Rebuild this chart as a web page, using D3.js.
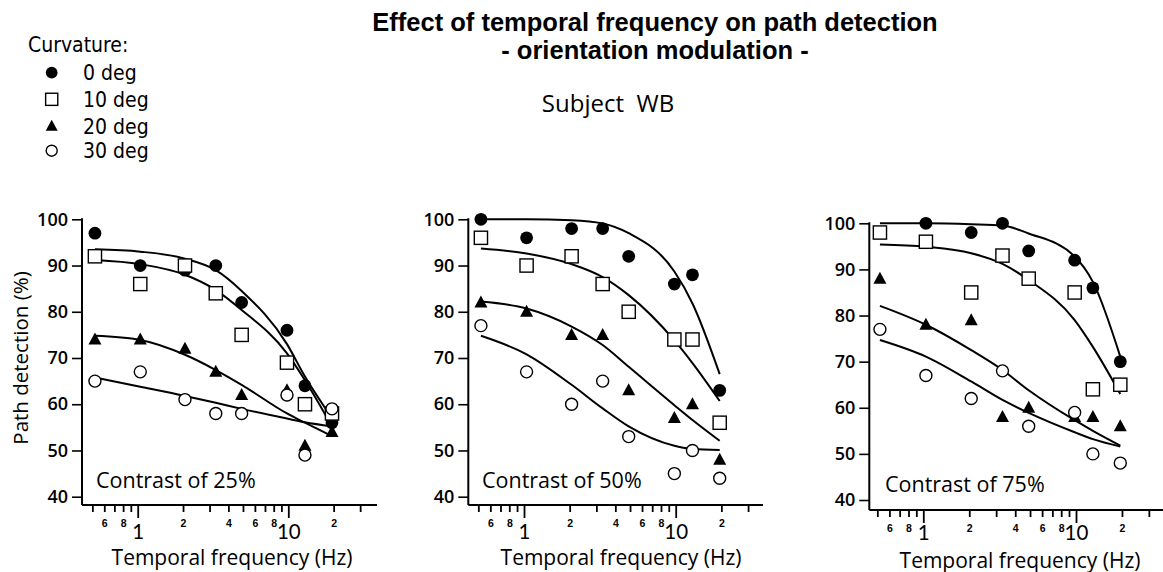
<!DOCTYPE html>
<html>
<head>
<meta charset="utf-8">
<script src="https://cdn.jsdelivr.net/npm/d3@7"></script>
<style>
  html, body { margin: 0; padding: 0; background: #fff; }
  svg { display: block; }
</style>
</head>
<body>
<svg id="chart" width="1163" height="572"></svg>
<script>
// Temporal frequencies tested (Hz)
const freqs = [0.52, 1.04, 2.06, 3.3, 4.9, 9.8, 12.9, 19.5];
const curvatures = ["0 deg", "10 deg", "20 deg", "30 deg"];
const contrasts = ["25%", "50%", "75%"];
const yTicks = [40, 50, 60, 70, 80, 90, 100];
const xTicks = [0.5, 0.6, 0.7, 0.8, 0.9, 1, 2, 3, 4, 5, 6, 7, 8, 9, 10, 20, 30];
const xMinorLabels = { 0.6: "6", 0.8: "8", 2: "2", 4: "4", 6: "6", 8: "8", 20: "2" };
const xMajorLabels = { 1: "1", 10: "10" };

// Path detection (%) — contrast 25%
const c25_deg0  = [97, 90, 89, 90, 82, 76, 64, 56];
const c25_deg10 = [92, 86, 90, 84, 75, 69, 60, 58];
const c25_deg20 = [74, 74, 72, 67, 62, 63, 51, 54];
const c25_deg30 = [65, 67, 61, 58, 58, 62, 49, 59];
// Fitted curves — contrast 25%
const fit25_deg0  = [93.5, 93.0, 91.5, 89.0, 84.5, 73.0, 66.0, 57.0];
const fit25_deg10 = [91.2, 90.3, 88.0, 84.7, 80.4, 71.0, 65.2, 55.2];
const fit25_deg20 = [74.8, 73.9, 70.7, 67.4, 64.2, 58.0, 56.0, 53.1];
const fit25_deg30 = [65.8, 63.8, 61.8, 60.3, 59.0, 56.9, 56.1, 55.2];

// Path detection (%) — contrast 50%
const c50_deg0  = [100, 96, 98, 98, 92, 86, 88, 63];
const c50_deg10 = [96, 90, 92, 86, 80, 74, 74, 56];
const c50_deg20 = [82, 80, 75, 75, 63, 57, 60, 48];
const c50_deg30 = [77, 67, 60, 65, 53, 45, 50, 44];
// Fitted curves — contrast 50%
const fit50_deg0  = [100, 100, 99.8, 99.1, 97.0, 88.7, 81.8, 66.5];
const fit50_deg10 = [93.7, 92.6, 90.3, 87.5, 83.6, 73.8, 68.9, 60.7];
const fit50_deg20 = [82.2, 80.7, 76.8, 72.8, 68.1, 59.8, 56.6, 52.1];
const fit50_deg30 = [74.8, 70.8, 64.2, 59.1, 55.2, 51.0, 50.3, 50.1];

// Path detection (%) — contrast 75%
const c75_deg0  = [98, 100, 98, 100, 94, 92, 86, 70];
const c75_deg10 = [98, 96, 85, 93, 88, 85, 64, 65];
const c75_deg20 = [88, 78, 79, 58, 60, 58, 58, 56];
const c75_deg30 = [77, 67, 62, 68, 56, 59, 50, 48];
// Fitted curves — contrast 75%
const fit75_deg0  = [100, 100, 99.8, 99.5, 97.8, 92.8, 87.3, 71.1];
const fit75_deg10 = [95.4, 94.9, 93.5, 91.2, 87.7, 79.0, 73.2, 63.0];
const fit75_deg20 = [82.1, 78.0, 72.5, 68.2, 63.8, 57.3, 55.0, 51.8];
const fit75_deg30 = [74.7, 71.1, 65.7, 61.7, 58.9, 54.7, 53.2, 51.6];

const panelData = [
  { points: [c25_deg0, c25_deg10, c25_deg20, c25_deg30], fits: [fit25_deg0, fit25_deg10, fit25_deg20, fit25_deg30] },
  { points: [c50_deg0, c50_deg10, c50_deg20, c50_deg30], fits: [fit50_deg0, fit50_deg10, fit50_deg20, fit50_deg30] },
  { points: [c75_deg0, c75_deg10, c75_deg20, c75_deg30], fits: [fit75_deg0, fit75_deg10, fit75_deg20, fit75_deg30] }
];

// Panel placement
const layout = [
  { x0: 82,    x1: 137.7, x10: 288.3, y100: 219.3, y40: 496.7, axisY: 505, xEnd: 377,  labelX: 96,  labelY: 488, titleX: 232,  titleY: 565,   majorDy: 34 },
  { x0: 468.3, x1: 524,   x10: 675.7, y100: 219.3, y40: 496.7, axisY: 505, xEnd: 763,  labelX: 482, labelY: 488, titleX: 621,  titleY: 565,   majorDy: 34 },
  { x0: 869.3, x1: 923.3, x10: 1076,  y100: 223.3, y40: 500,   axisY: 510, xEnd: 1163, labelX: 885, labelY: 492, titleX: 1020, titleY: 567.5, majorDy: 30 }
];

const svg = d3.select("#chart");
const FONT = "'Open Sans', 'Noto Sans', sans-serif";
const NUM = "Lato, 'Open Sans', sans-serif";
const BOLD = "'Liberation Sans', Arial, sans-serif";
const NARROW = "'Liberation Sans Narrow', 'DejaVu Sans Condensed', sans-serif";

// Marker drawing per curvature
function drawMarker(g, k, cx, cy, s = 1) {
  if (k === 0) {
    g.append("circle").attr("cx", cx).attr("cy", cy).attr("r", 6.4 * s).attr("fill", "#000");
  } else if (k === 1) {
    const h = 6.6 * s;
    g.append("rect").attr("x", cx - h).attr("y", cy - h).attr("width", 2 * h).attr("height", 2 * h)
      .attr("fill", "#fff").attr("stroke", "#000").attr("stroke-width", 1.4);
  } else if (k === 2) {
    g.append("path")
      .attr("d", `M${cx},${cy - 7 * s}L${cx + 6.5 * s},${cy + 5 * s}L${cx - 6.5 * s},${cy + 5 * s}Z`)
      .attr("fill", "#000");
  } else {
    g.append("circle").attr("cx", cx).attr("cy", cy).attr("r", 6 * s)
      .attr("fill", "#fff").attr("stroke", "#000").attr("stroke-width", 1.4);
  }
}

layout.forEach((L, p) => {
  const x = d3.scaleLog().domain([1, 10]).range([L.x1, L.x10]);
  const y = d3.scaleLinear().domain([40, 100]).range([L.y40, L.y100]);
  const g = svg.append("g");

  // y axis
  const yAxis = g.append("g").attr("transform", `translate(${L.x0},0)`)
    .call(d3.axisLeft(y).tickValues(yTicks).tickSize(10).tickPadding(4).tickSizeOuter(0));
  yAxis.select(".domain").remove();
  yAxis.selectAll(".tick line").attr("stroke", "#000").attr("stroke-width", 1.6);
  yAxis.selectAll(".tick text").attr("font-family", FONT).attr("font-size", 18).attr("font-weight", 600).attr("fill", "#000");
  g.append("line").attr("x1", L.x0).attr("x2", L.x0).attr("y1", L.y100 - 1).attr("y2", L.axisY)
    .attr("stroke", "#000").attr("stroke-width", 2);

  // x axis
  const xAxis = g.append("g").attr("transform", `translate(0,${L.axisY})`)
    .call(d3.axisBottom(x).tickValues(xTicks).tickSizeOuter(0).tickFormat(() => ""));
  xAxis.select(".domain").remove();
  xAxis.selectAll(".tick line")
    .attr("stroke", "#000").attr("stroke-width", 1.8)
    .attr("y2", d => (d === 1 || d === 10) ? 13 : 7);
  g.append("line").attr("x1", L.x0).attr("x2", L.xEnd).attr("y1", L.axisY).attr("y2", L.axisY)
    .attr("stroke", "#000").attr("stroke-width", 2);
  xAxis.selectAll(".tick").each(function (d) {
    const t = d3.select(this);
    if (xMinorLabels[d] !== undefined) {
      t.append("text").attr("y", 22).attr("text-anchor", "middle")
        .attr("font-family", BOLD).attr("font-weight", 700).attr("font-size", 10.5)
        .attr("fill", "#000").text(xMinorLabels[d]);
    }
    if (xMajorLabels[d] !== undefined) {
      t.append("text").attr("y", L.majorDy).attr("text-anchor", "middle")
        .attr("font-family", NUM).attr("font-size", 20.5)
        .attr("fill", "#000").text(xMajorLabels[d]);
    }
  });

  // x axis title
  g.append("text").attr("x", L.titleX).attr("y", L.titleY).attr("text-anchor", "middle")
    .attr("font-family", FONT).attr("font-size", 21).attr("fill", "#000")
    .text("Temporal frequency (Hz)");

  // contrast label
  g.append("text").attr("x", L.labelX).attr("y", L.labelY)
    .attr("font-family", FONT).attr("font-size", 21.5).attr("fill", "#000")
    .text("Contrast of " + contrasts[p]);

  // fitted curves
  const line = d3.line().x((d, i) => x(freqs[i])).y(d => y(d)).curve(d3.curveMonotoneX);
  panelData[p].fits.forEach(f => {
    g.append("path").attr("d", line(f)).attr("fill", "none").attr("stroke", "#000").attr("stroke-width", 2);
  });

  // data markers
  panelData[p].points.forEach((vals, k) => {
    vals.forEach((v, i) => drawMarker(g, k, x(freqs[i]), y(v)));
  });
});

// y axis title (first panel only)
svg.append("text")
  .attr("transform", "translate(28,358) rotate(-90)")
  .attr("text-anchor", "middle")
  .attr("font-family", FONT).attr("font-size", 20.5).attr("fill", "#000")
  .text("Path detection (%)");

// Titles
svg.append("text").attr("x", 655).attr("y", 31).attr("text-anchor", "middle")
  .attr("font-family", BOLD).attr("font-weight", 700).attr("font-size", 25.5)
  .text("Effect of temporal frequency on path detection");
svg.append("text").attr("x", 655).attr("y", 59).attr("text-anchor", "middle")
  .attr("font-family", BOLD).attr("font-weight", 700).attr("font-size", 25.5)
  .text("- orientation modulation -");
svg.append("text").attr("x", 608).attr("y", 112).attr("text-anchor", "middle")
  .attr("font-family", FONT).attr("font-size", 24).attr("fill", "#000")
  .style("white-space", "pre")
  .text("Subject  WB");

// Legend
const legend = svg.append("g");
legend.append("text").attr("x", 28).attr("y", 52)
  .attr("font-family", NARROW).attr("font-size", 21)
  .text("Curvature:");
const legendY = [72.7, 99.3, 126.2, 150.7];
curvatures.forEach((c, k) => {
  drawMarker(legend, k, 51.7, legendY[k], 0.92);
  legend.append("text").attr("x", 83).attr("y", legendY[k] + 7.5)
    .attr("font-family", NARROW).attr("font-size", 21)
    .text(c);
});
</script>
</body>
</html>
